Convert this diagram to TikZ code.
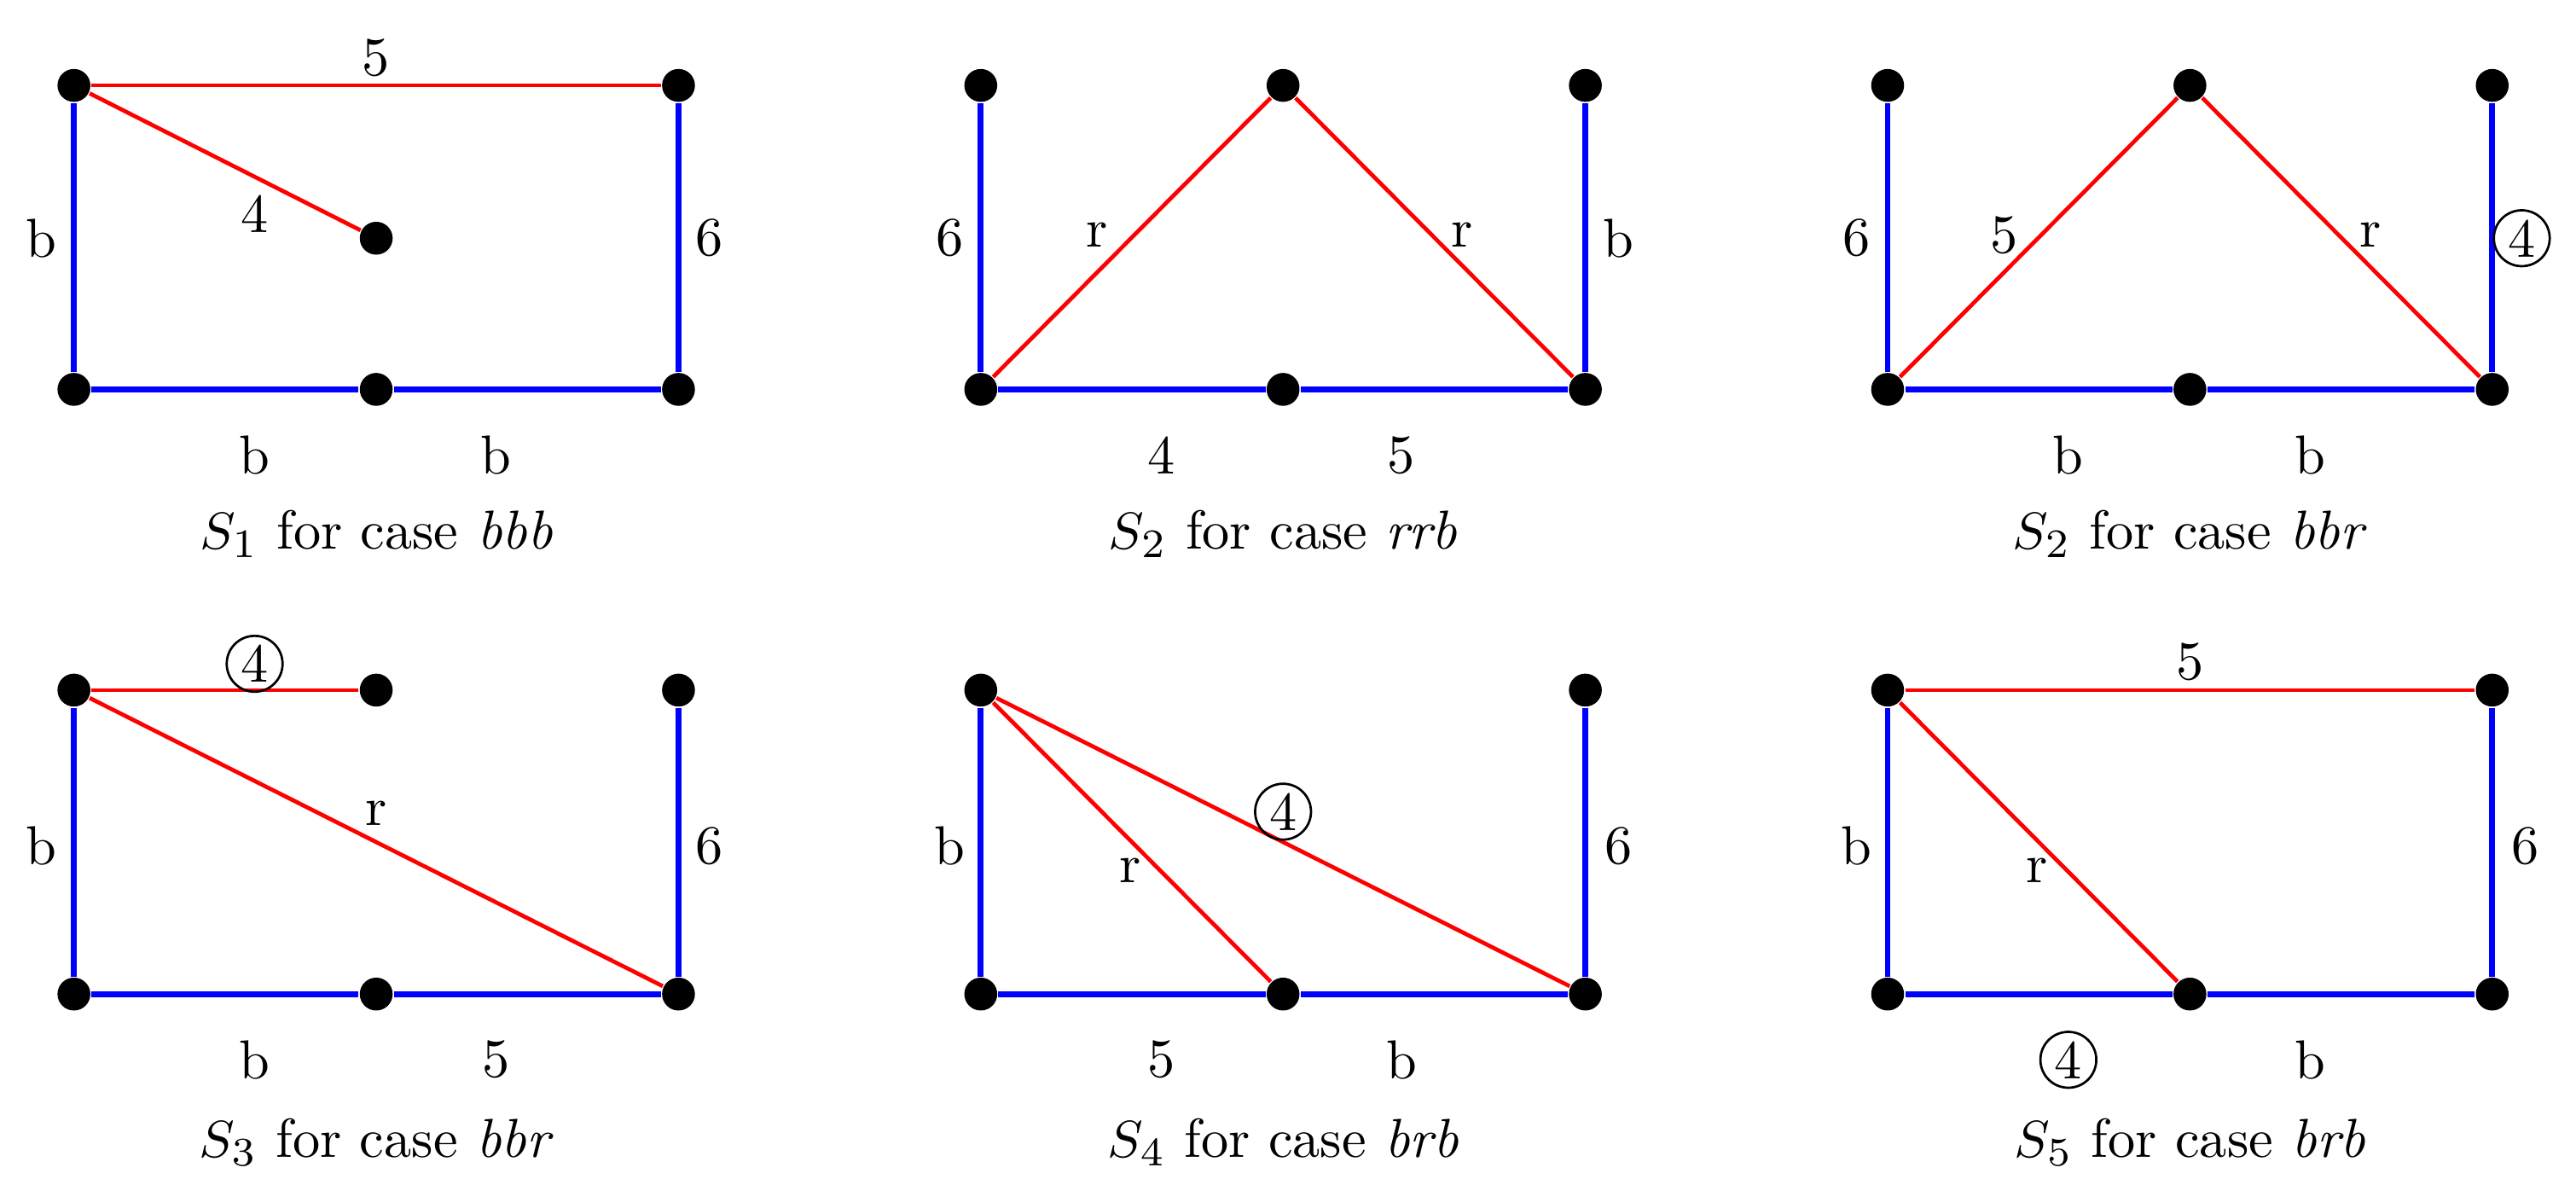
\documentclass[tikz,border=0pt]{standalone}
\begin{document}
\begin{tikzpicture}[x=0.01cm,y=-0.01cm,
  dot/.style={circle,fill=black,inner sep=0pt,minimum size=0.2cm},
  bl/.style={blue,line width=1pt},
  rd/.style={red,line width=0.7pt},
  lab/.style={font=\fontsize{9.5}{11}\selectfont},
  captext/.style={font=\fontsize{9.5}{11}\selectfont},
  circ/.style={circle,draw,inner sep=0.6pt,font=\fontsize{9.5}{11}\selectfont}]
\useasboundingbox (0,0) rectangle (1568,720.7);
% S1 bbb
\node[dot] (a1) at (45,52) {}; \node[dot] (a2) at (413,52) {}; \node[dot] (a3) at (229,145) {};
\node[dot] (a4) at (45,237) {}; \node[dot] (a5) at (229,237) {}; \node[dot] (a6) at (413,237) {};
\draw[rd] (a1)--(a2); \draw[rd] (a1)--(a3);
\draw[bl] (a1)--(a4); \draw[bl] (a2)--(a6); \draw[bl] (a4)--(a5)--(a6);
\node[lab] at (229,35) {5}; \node[lab] at (155,130) {4}; \node[lab] at (25,145) {b}; \node[lab] at (432,145) {6};
\node[lab] at (155,277) {b}; \node[lab] at (302,277) {b};
\node[captext] at (229,325) {$S_1$ for case \textit{bbb}};
% S2 rrb
\node[dot] (b1) at (597,52) {}; \node[dot] (b2) at (781,52) {}; \node[dot] (b3) at (965,52) {};
\node[dot] (b4) at (597,237) {}; \node[dot] (b5) at (781,237) {}; \node[dot] (b6) at (965,237) {};
\draw[rd] (b4)--(b2)--(b6);
\draw[bl] (b1)--(b4); \draw[bl] (b3)--(b6); \draw[bl] (b4)--(b5)--(b6);
\node[lab] at (578,145) {6}; \node[lab] at (668,143) {r}; \node[lab] at (890,143) {r}; \node[lab] at (985,145) {b};
\node[lab] at (707,277) {4}; \node[lab] at (853,277) {5};
\node[captext] at (781,325) {$S_2$ for case \textit{rrb}};
% S2 bbr
\node[dot] (c1) at (1149,52) {}; \node[dot] (c2) at (1333,52) {}; \node[dot] (c3) at (1517,52) {};
\node[dot] (c4) at (1149,237) {}; \node[dot] (c5) at (1333,237) {}; \node[dot] (c6) at (1517,237) {};
\draw[rd] (c4)--(c2)--(c6);
\draw[bl] (c1)--(c4); \draw[bl] (c3)--(c6); \draw[bl] (c4)--(c5)--(c6);
\node[lab] at (1130,145) {6}; \node[lab] at (1220,143) {5}; \node[lab] at (1443,143) {r}; \node[circ] at (1535,145) {4};
\node[lab] at (1259,277) {b}; \node[lab] at (1406,277) {b};
\node[captext] at (1333,325) {$S_2$ for case \textit{bbr}};
% S3 bbr
\node[dot] (d1) at (45,420) {}; \node[dot] (d2) at (229,420) {}; \node[dot] (d3) at (413,420) {};
\node[dot] (d4) at (45,605) {}; \node[dot] (d5) at (229,605) {}; \node[dot] (d6) at (413,605) {};
\draw[rd] (d1)--(d2); \draw[rd] (d1)--(d6);
\draw[bl] (d1)--(d4); \draw[bl] (d3)--(d6); \draw[bl] (d4)--(d5)--(d6);
\node[circ] at (155,404) {4}; \node[lab] at (229,495) {r}; \node[lab] at (25,515) {b}; \node[lab] at (432,515) {6};
\node[lab] at (155,645) {b}; \node[lab] at (302,645) {5};
\node[captext] at (229,695) {$S_3$ for case \textit{bbr}};
% S4 brb
\node[dot] (e1) at (597,420) {}; \node[dot] (e3) at (965,420) {};
\node[dot] (e4) at (597,605) {}; \node[dot] (e5) at (781,605) {}; \node[dot] (e6) at (965,605) {};
\draw[rd] (e1)--(e5); \draw[rd] (e1)--(e6);
\draw[bl] (e1)--(e4); \draw[bl] (e3)--(e6); \draw[bl] (e4)--(e5)--(e6);
\node[lab] at (578,515) {b}; \node[lab] at (688,530) {r}; \node[circ] at (781,494) {4}; \node[lab] at (985,515) {6};
\node[lab] at (707,645) {5}; \node[lab] at (853,645) {b};
\node[captext] at (781,695) {$S_4$ for case \textit{brb}};
% S5 brb
\node[dot] (f1) at (1149,420) {}; \node[dot] (f3) at (1517,420) {};
\node[dot] (f4) at (1149,605) {}; \node[dot] (f5) at (1333,605) {}; \node[dot] (f6) at (1517,605) {};
\draw[rd] (f1)--(f3); \draw[rd] (f1)--(f5);
\draw[bl] (f1)--(f4); \draw[bl] (f3)--(f6); \draw[bl] (f4)--(f5)--(f6);
\node[lab] at (1333,403) {5}; \node[lab] at (1130,515) {b}; \node[lab] at (1240,530) {r}; \node[lab] at (1537,515) {6};
\node[circ] at (1259,645) {4}; \node[lab] at (1406,645) {b};
\node[captext] at (1333,695) {$S_5$ for case \textit{brb}};
\end{tikzpicture}
\end{document}
